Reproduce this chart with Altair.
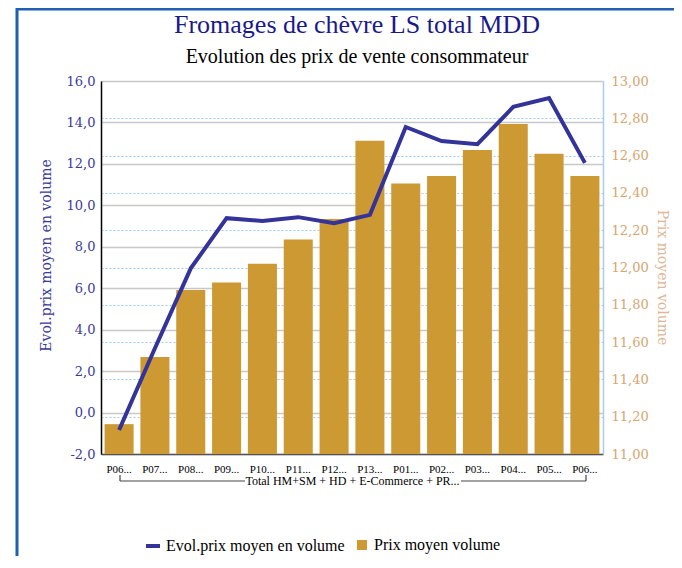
import altair as alt
import pandas as pd

periods = ["P06...", "P07...", "P08...", "P09...", "P10...", "P11...", "P12...",
           "P13...", "P01...", "P02...", "P03...", "P04...", "P05...", "P06..."]
prix_moyen = [11.16, 11.52, 11.88, 11.92, 12.02, 12.15, 12.26,
              12.68, 12.45, 12.49, 12.63, 12.77, 12.61, 12.49]
evol_prix = [-0.84, 3.10, 6.96, 9.38, 9.25, 9.43, 9.14,
             9.54, 13.78, 13.10, 12.95, 14.75, 15.18, 12.05]
left_ticks = [-2, 0, 2, 4, 6, 8, 10, 12, 14, 16]
right_ticks = [11.0, 11.2, 11.4, 11.6, 11.8, 12.0, 12.2, 12.4, 12.6, 12.8, 13.0]
group_label = "Total HM+SM + HD + E-Commerce + PR..."
line_name = "Evol.prix moyen en volume"
bar_name = "Prix moyen volume"
title_text = "Fromages de chèvre LS total MDD"
subtitle_text = "Evolution des prix de vente consommateur"

keys = [f"{i:02d}" for i in range(len(periods))]
df = pd.DataFrame({
    "key": keys,
    "periode": periods,
    "prix": prix_moyen,
    "evol": evol_prix,
    "s_line": line_name,
    "s_bar": bar_name,
})
one = pd.DataFrame({"a": [0]})
titles = pd.DataFrame({"t": [title_text]})
subtitles = pd.DataFrame({"t": [subtitle_text]})

label_expr = "[" + ",".join(f"'{p}'" for p in periods) + "][toNumber(datum.value)]"
fmt1 = "replace(replace(format(datum.value, '.1f'), '.', ','), '\u2212', '-')"
fmt2 = "replace(format(datum.value, '.2f'), '.', ',')"

SERIF = "Liberation Serif"
WSERIF = "DejaVu Serif"
W, H = 502, 373

x_enc = alt.X(
    "key:N", sort=keys,
    scale=alt.Scale(paddingInner=0.19, paddingOuter=0.1),
    axis=alt.Axis(
        labelExpr=label_expr, title=group_label, labelAngle=0, ticks=False,
        domainColor="#555555", domainWidth=1.5, labelFont=SERIF, labelFontSize=11,
        labelColor="black", labelPadding=9, titleFont=SERIF, titleFontSize=12,
        titleFontWeight="normal", titleColor="black", titlePadding=1, grid=False,
    ),
)

bars = alt.Chart(df).mark_bar().encode(
    x=x_enc,
    y=alt.Y(
        "prix:Q",
        scale=alt.Scale(domain=[11, 13], nice=False, zero=False),
        axis=alt.Axis(
            orient="right", values=right_ticks, labelExpr=fmt2, grid=True,
            gridColor="#9fcdf5", gridDash=[2, 2], gridWidth=1,
            domainColor="#a8cdf0", domainWidth=1.5, ticks=False,
            labelFont=WSERIF, labelFontSize=13, labelColor="#D6A571", labelPadding=8,
            title=bar_name, titleFont=WSERIF, titleFontSize=14, titleFontWeight="normal",
            titleColor="#DDB896", titlePadding=6, titleY=196,
        ),
    ),
    y2=alt.datum(11),
    fill=alt.Fill(
        "s_bar:N", scale=alt.Scale(domain=[bar_name], range=["#CC9933"]),
        legend=alt.Legend(
            title=None, orient="none", legendX=253, legendY=456, symbolType="square",
            symbolSize=100, symbolFillColor="#CC9933", symbolStrokeColor="#CC9933",
            symbolStrokeWidth=0, symbolOpacity=1, labelFont=SERIF, labelFontSize=16,
            labelColor="black", labelLimit=300, padding=0,
        ),
    ),
)

line = alt.Chart(df).mark_line(strokeWidth=4).encode(
    x=alt.X("key:N", sort=keys),
    y=alt.Y(
        "evol:Q",
        scale=alt.Scale(domain=[-2, 16], nice=False),
        axis=alt.Axis(
            orient="left", values=left_ticks, labelExpr=fmt1, grid=True,
            gridColor="#c8c8c8", gridWidth=1.5, domainColor="black", domainWidth=1.5,
            ticks=False, labelFont=WSERIF, labelFontSize=13, labelColor="#3a3a9a",
            labelPadding=6, title=line_name, titleFont=WSERIF, titleFontSize=14,
            titleFontWeight="normal", titleColor="#3a3a9a", titlePadding=13, titleY=174,
        ),
    ),
    stroke=alt.Stroke(
        "s_line:N", scale=alt.Scale(domain=[line_name], range=["#333399"]),
        legend=alt.Legend(
            title=None, orient="none", legendX=43, legendY=456, symbolType="stroke",
            symbolSize=196, symbolStrokeWidth=4, labelFont=SERIF, labelFontSize=16,
            labelColor="black", labelLimit=300, padding=0,
        ),
    ),
)

# titles as text marks (placed above the plot area)
title_mark = alt.Chart(titles).mark_text(
    font=SERIF, fontSize=26, color="#1a1a8a", align="center", baseline="alphabetic"
).encode(text="t:N", x=alt.value(W / 2 + 5), y=alt.value(-48))
subtitle_mark = alt.Chart(subtitles).mark_text(
    font=SERIF, fontSize=20, color="black", align="center", baseline="alphabetic"
).encode(text="t:N", x=alt.value(W / 2 + 5), y=alt.value(-18))

# decorative frame and bracket under the x labels
frame_top = alt.Chart(one).mark_rule(color="#1f5fb4", strokeWidth=3).encode(
    x=alt.value(-84), x2=alt.value(W + 90), y=alt.value(-72))
frame_left = alt.Chart(one).mark_rule(color="#1f5fb4", strokeWidth=3).encode(
    x=alt.value(-84), y=alt.value(-73), y2=alt.value(H + 110))
br1 = alt.Chart(one).mark_rule(color="#444444", strokeWidth=1.2).encode(
    x=alt.value(19), x2=alt.value(144), y=alt.value(400))
br2 = alt.Chart(one).mark_rule(color="#444444", strokeWidth=1.2).encode(
    x=alt.value(360), x2=alt.value(485), y=alt.value(400))
br3 = alt.Chart(one).mark_rule(color="#444444", strokeWidth=1.2).encode(
    x=alt.value(19), y=alt.value(394), y2=alt.value(400))
br4 = alt.Chart(one).mark_rule(color="#444444", strokeWidth=1.2).encode(
    x=alt.value(485), y=alt.value(394), y2=alt.value(400))

chart = alt.layer(
    bars, line, title_mark, subtitle_mark, frame_top, frame_left, br1, br2, br3, br4
).resolve_scale(
    y="independent", fill="independent", stroke="independent"
).properties(
    width=W, height=H,
    autosize=alt.AutoSizeParams(type="none"),
    padding={"left": 93, "top": 73, "right": 71, "bottom": 102},
).configure_view(stroke=None)

chart.save("out.html", embed_options={"renderer": "svg", "actions": False})
